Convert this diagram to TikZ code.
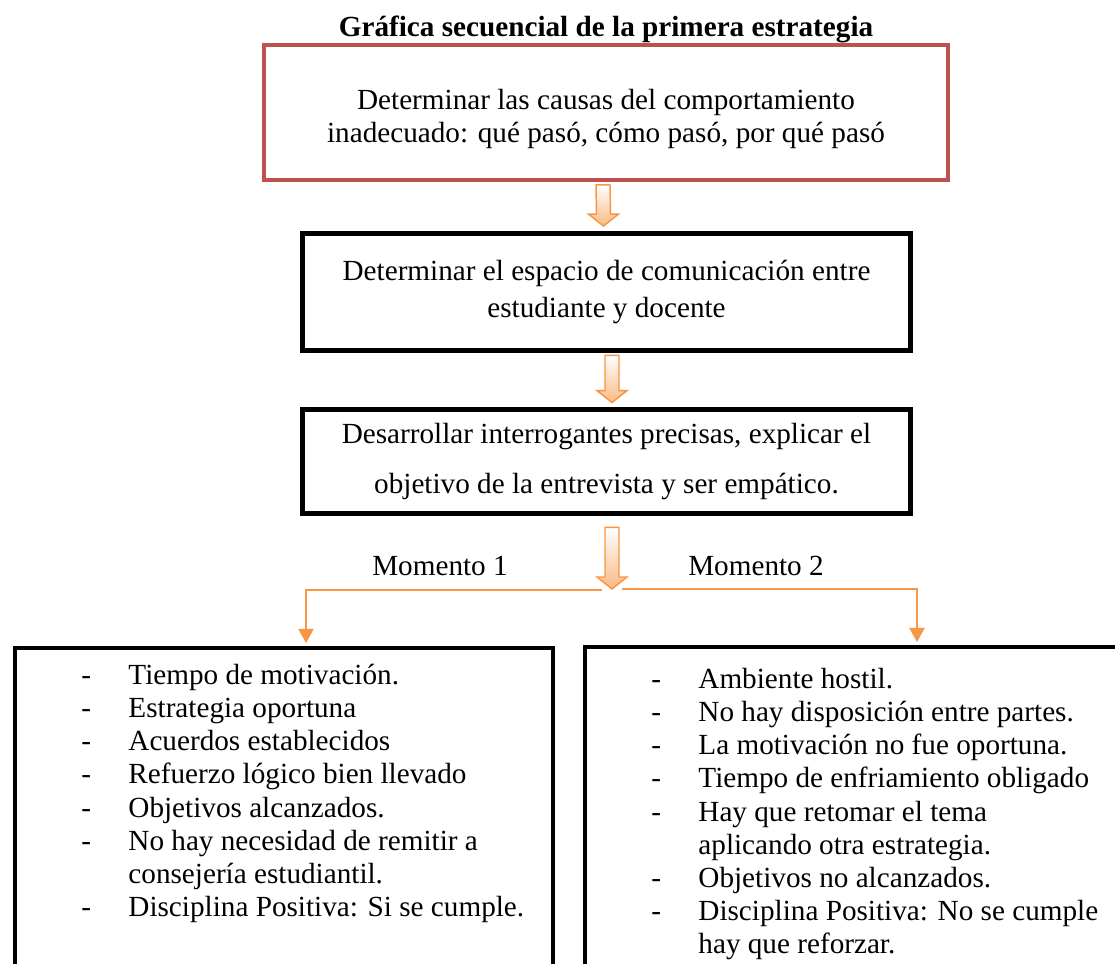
\documentclass[tikz,border=0pt]{standalone}
\usepackage{fontspec}
\setmainfont{Liberation Serif}
\usepackage{tikz}
\usetikzlibrary{arrows.meta, positioning, calc}
\definecolor{boxred}{HTML}{C0504D}
\definecolor{linkorange}{HTML}{F79646}
\definecolor{arrowfill}{HTML}{FAB983}
\newcommand{\pxu}{0.411pt}

\tikzset{
  stepbox/.style={draw, line width=2pt, minimum width=608*\pxu, align=center, inner sep=0pt},
  listbox/.style={draw, line width=2pt, minimum height=340*\pxu, anchor=north west, inner sep=0pt},
  fatarrow/.style={draw=linkorange, line width=0.6pt, top color=white, bottom color=arrowfill,
    to path={($(\tikztostart)+(-7,0)$) -- ($(\tikztostart)+(7,0)$) -- ($(\tikztotarget)+(7,-12)$)
      -- ($(\tikztotarget)+(15,-12)$) -- (\tikztotarget) -- ($(\tikztotarget)+(-15,-12)$)
      -- ($(\tikztotarget)+(-7,-12)$) -- cycle}},
  branch/.style={draw=linkorange, line width=0.8pt, -{Triangle[width=6.2pt,length=5.8pt]}},
}

\begin{document}
\begin{tikzpicture}[x=0.411pt, y=-0.411pt, font=\fontsize{12}{14.8}\selectfont]
  \clip (0,0) rectangle (1115,964);
  \fill[white] (0,0) rectangle (1115,964);

  % TITLE
  \node[font=\fontsize{12}{14.8}\selectfont\bfseries, anchor=base] (title) at (606,36)
    {Gráfica secuencial de la primera estrategia};

  % STEPS
  \node[stepbox, draw=boxred, line width=1.6pt, minimum width=684*\pxu, minimum height=135*\pxu,
    font=\fontsize{12}{13.6}\selectfont] (cause) at (606,112.5)
    {\rule{0pt}{14pt}Determinar las causas del comportamiento\\inadecuado: qué pasó, cómo pasó, por qué pasó};
  \node[stepbox, minimum height=117*\pxu, font=\fontsize{12}{15.2}\selectfont] (talk) at (606.5,292)
    {Determinar el espacio de comunicación entre\\estudiante y docente};
  \node[stepbox, minimum height=104*\pxu, font=\fontsize{12}{20.5}\selectfont] (ask) at (606.5,461.5)
    {Desarrollar interrogantes precisas, explicar el\\objetivo de la entrevista y ser empático.};

  \coordinate (split) at (612,589);
  \draw[fatarrow] ($(cause.south)+(-3,3)$) to ($(talk.north)+(-3,-5)$);
  \draw[fatarrow] ($(talk.south)+(5.5,2.5)$) to ($(ask.north)+(5.5,-4.5)$);
  \draw[fatarrow] ($(ask.south)+(5.5,11.5)$) to (split);

  % MOMENTS
  \node[anchor=base] (mom1) at (440,575) {Momento 1};
  \node[anchor=base] (mom2) at (756,575) {Momento 2};

  \node[listbox, minimum width=538*\pxu] (good) at (12.5,645.5) {};
  \node[listbox, minimum width=560*\pxu] (bad) at (582.5,644.5) {};

  \draw[branch] ($(split)+(-10,1)$) -| ($(good.north west)+(293.5,-2.5)$);
  \draw[branch] ($(split)+(10,0)$) -| ($(bad.north west)+(334.5,-2.5)$);

  \node[anchor=north west, inner sep=0pt, font=\fontsize{12}{13.6}\selectfont] (goodlist) at (81,661) {%
    \begin{tabular}{@{}p{19.3pt}@{}l@{}}
      - & Tiempo de motivación.\\
      - & Estrategia oportuna\\
      - & Acuerdos establecidos\\
      - & Refuerzo lógico bien llevado\\
      - & Objetivos alcanzados.\\
      - & No hay necesidad de remitir a\\
        & consejería estudiantil.\\
      - & Disciplina Positiva: Si se cumple.
    \end{tabular}};
  \node[anchor=north west, inner sep=0pt, font=\fontsize{12}{13.6}\selectfont] (badlist) at (651,665) {%
    \begin{tabular}{@{}p{19.3pt}@{}l@{}}
      - & Ambiente hostil.\\
      - & No hay disposición entre partes.\\
      - & La motivación no fue oportuna.\\
      - & Tiempo de enfriamiento obligado\\
      - & Hay que retomar el tema\\
        & aplicando otra estrategia.\\
      - & Objetivos no alcanzados.\\
      - & Disciplina Positiva: No se cumple\\
        & hay que reforzar.
    \end{tabular}};
\end{tikzpicture}
\end{document}
